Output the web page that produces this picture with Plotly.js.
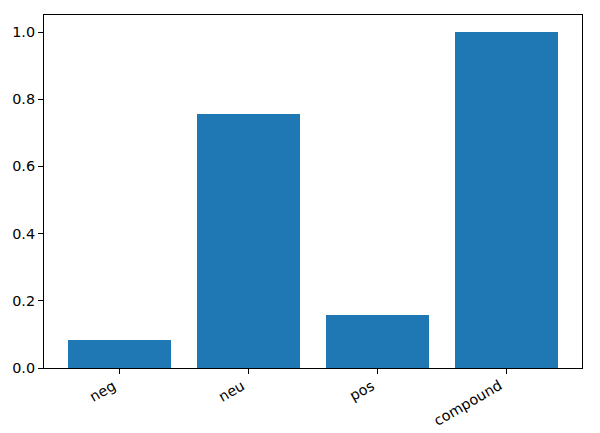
<!DOCTYPE html>
<html>
<head>
<meta charset="utf-8">
<script src="https://cdn.plot.ly/plotly-3.0.1.min.js"></script>
<style>html,body{margin:0;padding:0;background:#fff;}#chart{width:600px;height:433px;}</style>
</head>
<body>
<div id="chart"></div>
<script>
const categories = ["neg", "neu", "pos", "compound"];
const values = [0.083, 0.756, 0.157, 0.9995];
const yTicks = [0, 0.2, 0.4, 0.6, 0.8, 1.0];
const yTickLabels = ["0.0", "0.2", "0.4", "0.6", "0.8", "1.0"];

const positions = categories.map((c, i) => i);

const trace = {
  type: "bar",
  x: positions,
  y: values,
  width: 0.8,
  marker: {color: "#1f77b4", line: {width: 0}},
  hoverinfo: "x+y"
};

const FONT = "DejaVu Sans";
const FS = 14.4;

const annotations = categories.map((c, i) => ({
  x: positions[i], xref: "x",
  y: 0, yref: "paper",
  text: c,
  textangle: -30,
  xanchor: "right", yanchor: "top",
  yshift: -8,
  showarrow: false,
  borderpad: 0,
  font: {family: FONT, size: FS, color: "#000"}
}));

const layout = {
  width: 600, height: 433,
  margin: {l: 44, r: 18, t: 15, b: 65},
  paper_bgcolor: "#fff", plot_bgcolor: "#fff",
  font: {family: FONT, size: FS, color: "#000"},
  showlegend: false,
  bargap: 0,
  annotations: annotations,
  xaxis: {
    range: [-0.59, 3.59],
    tickvals: positions,
    ticktext: categories,
    showticklabels: false,
    ticks: "outside", ticklen: 5, tickwidth: 1, tickcolor: "#000",
    showline: true, linecolor: "#000", linewidth: 1, mirror: true,
    showgrid: false, zeroline: false
  },
  yaxis: {
    range: [0, 1.0507],
    tickvals: yTicks,
    ticktext: yTickLabels,
    ticks: "outside", ticklen: 5, tickwidth: 1, tickcolor: "#000",
    showline: true, linecolor: "#000", linewidth: 1, mirror: true,
    showgrid: false, zeroline: false
  }
};

Plotly.newPlot("chart", [trace], layout, {displayModeBar: false, staticPlot: true});
</script>
</body>
</html>
